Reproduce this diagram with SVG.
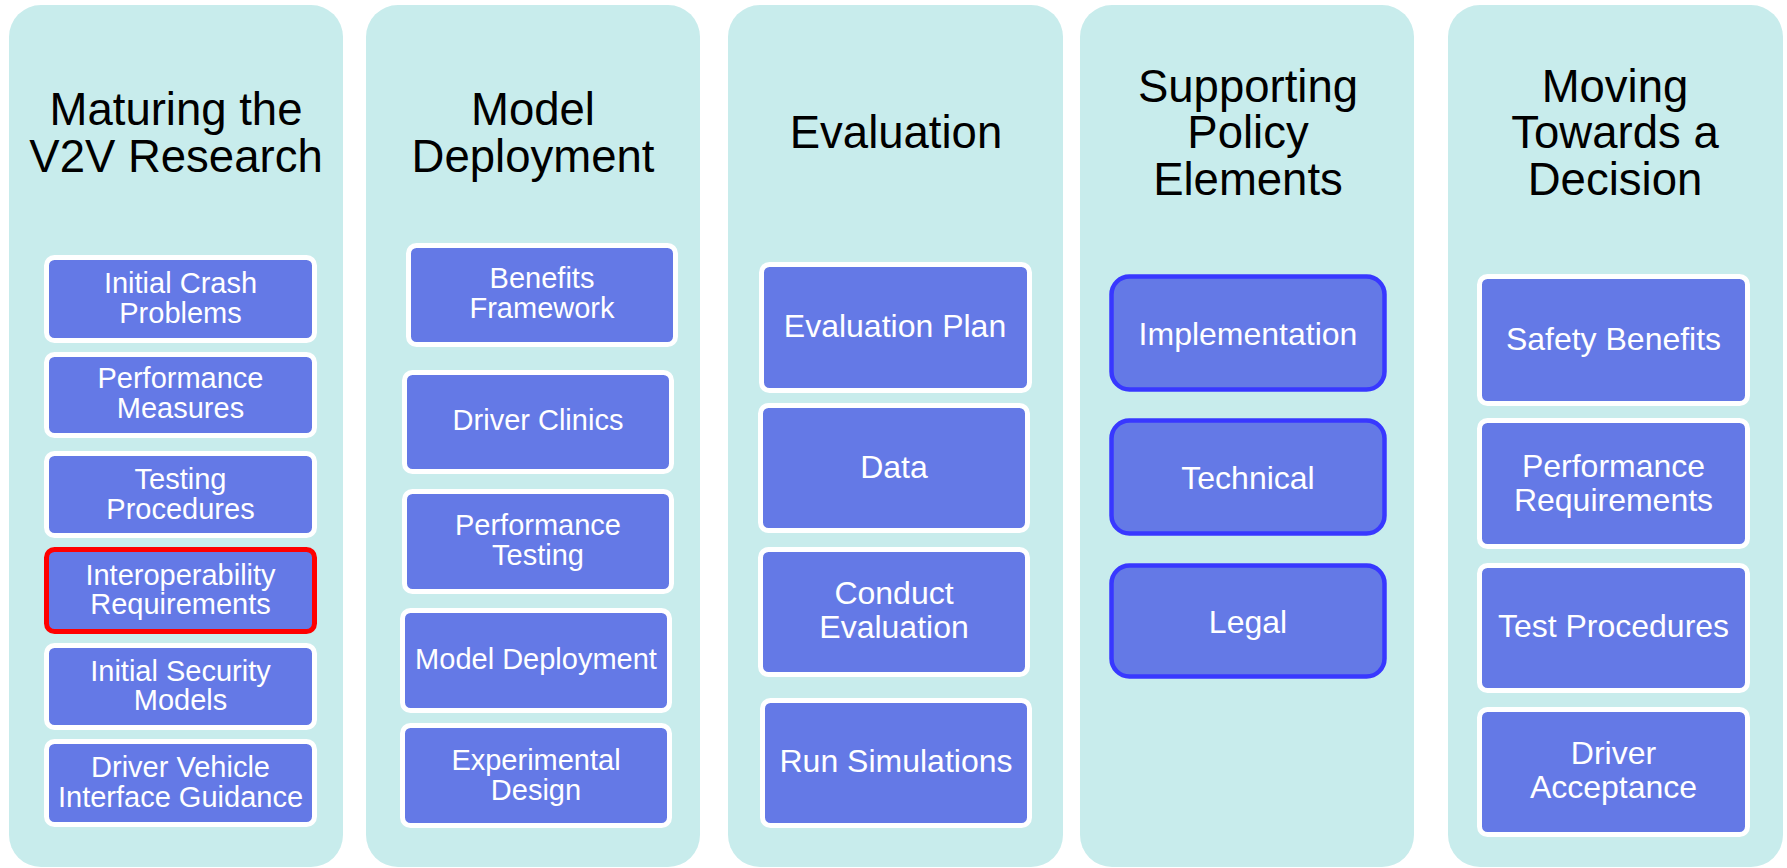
<svg xmlns="http://www.w3.org/2000/svg" width="1787" height="868" viewBox="0 0 1787 868">
<style>
.panel{fill:#C8ECEC;}
.box{fill:#6479E6;stroke:#FFFFFF;stroke-width:5;}
.red{stroke:#FF0000;}
.blue{stroke:#3838FF;stroke-width:4.5;}
.title{font-family:"Liberation Sans",Arial,sans-serif;font-size:45.5px;fill:#000;text-anchor:middle;}
.lbl{font-family:"Liberation Sans",Arial,sans-serif;font-size:29px;fill:#FFFFFF;text-anchor:middle;}
.big{font-size:32px;}
</style>
<rect width="1787" height="868" fill="#FFFFFF"/>
<g id="col1">
<rect class="panel" x="9" y="5" width="334" height="862" rx="32"/>
<text class="title" x="176" y="125">Maturing the</text>
<text class="title" x="176" y="172">V2V Research</text>
</g>
<g id="col2">
<rect class="panel" x="366" y="5" width="334" height="862" rx="32"/>
<text class="title" x="533" y="125">Model</text>
<text class="title" x="533" y="172">Deployment</text>
</g>
<g id="col3">
<rect class="panel" x="728" y="5" width="335" height="862" rx="32"/>
<text class="title" x="896" y="148">Evaluation</text>
</g>
<g id="col4">
<rect class="panel" x="1080" y="5" width="334" height="862" rx="32"/>
<text class="title" x="1248" y="102">Supporting</text>
<text class="title" x="1248" y="148">Policy</text>
<text class="title" x="1248" y="195">Elements</text>
</g>
<g id="col5">
<rect class="panel" x="1448" y="5" width="335" height="862" rx="32"/>
<text class="title" x="1615" y="102">Moving</text>
<text class="title" x="1615" y="148">Towards a</text>
<text class="title" x="1615" y="195">Decision</text>
</g>
<g id="connectors"></g>
<g id="n-initial-crash"><rect class="box" x="46.5" y="257.5" width="268" height="83" rx="8"/><text class="lbl" x="180.5" y="293">Initial Crash</text><text class="lbl" x="180.5" y="323">Problems</text></g>
<g id="n-perf-measures"><rect class="box" x="46.5" y="354.5" width="268" height="81" rx="8"/><text class="lbl" x="180.5" y="388">Performance</text><text class="lbl" x="180.5" y="418">Measures</text></g>
<g id="n-testing-proc"><rect class="box" x="46.5" y="453.5" width="268" height="82" rx="8"/><text class="lbl" x="180.5" y="489">Testing</text><text class="lbl" x="180.5" y="519">Procedures</text></g>
<g id="n-interop"><rect class="box red" x="46.5" y="549.5" width="268" height="82" rx="8"/><text class="lbl" x="180.5" y="585">Interoperability</text><text class="lbl" x="180.5" y="614">Requirements</text></g>
<g id="n-security"><rect class="box" x="46.5" y="645.5" width="268" height="82" rx="8"/><text class="lbl" x="180.5" y="681">Initial Security</text><text class="lbl" x="180.5" y="710">Models</text></g>
<g id="n-dvi"><rect class="box" x="46.5" y="741.5" width="268" height="83" rx="8"/><text class="lbl" x="180.5" y="777">Driver Vehicle</text><text class="lbl" x="180.5" y="807">Interface Guidance</text></g>

<g id="n-benefits-fw"><rect class="box" x="408.5" y="245.5" width="267" height="99" rx="8"/><text class="lbl" x="542" y="288">Benefits</text><text class="lbl" x="542" y="318">Framework</text></g>
<g id="n-driver-clinics"><rect class="box" x="404.5" y="372.5" width="267" height="99" rx="8"/><text class="lbl" x="538" y="430">Driver Clinics</text></g>
<g id="n-perf-testing"><rect class="box" x="404.5" y="491.5" width="267" height="100" rx="8"/><text class="lbl" x="538" y="535">Performance</text><text class="lbl" x="538" y="565">Testing</text></g>
<g id="n-model-dep"><rect class="box" x="402.5" y="610.5" width="267" height="100" rx="8"/><text class="lbl" x="536" y="669">Model Deployment</text></g>
<g id="n-exp-design"><rect class="box" x="402.5" y="725.5" width="267" height="100" rx="8"/><text class="lbl" x="536" y="770">Experimental</text><text class="lbl" x="536" y="800">Design</text></g>

<g id="n-eval-plan"><rect class="box" x="761.5" y="264.5" width="268" height="126" rx="8"/><text class="lbl big" x="895" y="337">Evaluation Plan</text></g>
<g id="n-data"><rect class="box" x="760.5" y="405.5" width="267" height="125" rx="8"/><text class="lbl big" x="894" y="478">Data</text></g>
<g id="n-conduct"><rect class="box" x="760.5" y="549.5" width="267" height="125" rx="8"/><text class="lbl big" x="894" y="604">Conduct</text><text class="lbl big" x="894" y="638">Evaluation</text></g>
<g id="n-run-sim"><rect class="box" x="762.5" y="700.5" width="267" height="125" rx="8"/><text class="lbl big" x="896" y="772">Run Simulations</text></g>

<g id="n-impl"><rect class="box blue" x="1111.5" y="276.5" width="273" height="113" rx="18"/><text class="lbl big" x="1248" y="345">Implementation</text></g>
<g id="n-technical"><rect class="box blue" x="1111.5" y="420.5" width="273" height="113" rx="18"/><text class="lbl big" x="1248" y="489">Technical</text></g>
<g id="n-legal"><rect class="box blue" x="1111.5" y="565.5" width="273" height="111" rx="18"/><text class="lbl big" x="1248" y="633">Legal</text></g>

<g id="n-safety"><rect class="box" x="1479.5" y="276.5" width="268" height="127" rx="8"/><text class="lbl big" x="1613.5" y="350">Safety Benefits</text></g>
<g id="n-perf-req"><rect class="box" x="1479.5" y="420.5" width="268" height="126" rx="8"/><text class="lbl big" x="1613.5" y="477">Performance</text><text class="lbl big" x="1613.5" y="511">Requirements</text></g>
<g id="n-test-proc"><rect class="box" x="1479.5" y="565.5" width="268" height="125" rx="8"/><text class="lbl big" x="1613.5" y="637">Test Procedures</text></g>
<g id="n-driver-acc"><rect class="box" x="1479.5" y="709.5" width="268" height="125" rx="8"/><text class="lbl big" x="1613.5" y="764">Driver</text><text class="lbl big" x="1613.5" y="798">Acceptance</text></g>
</svg>
